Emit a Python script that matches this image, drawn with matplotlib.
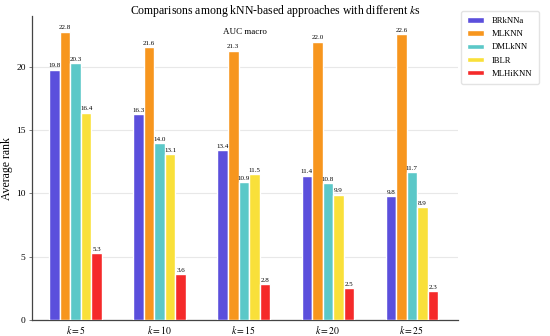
import matplotlib
matplotlib.use("Agg")
import matplotlib.pyplot as plt
import numpy as np

plt.rcParams['font.family'] = ['Liberation Serif', 'DejaVu Serif']
plt.rcParams['mathtext.fontset'] = 'stix'

groups = ["$k = 5$", "$k = 10$", "$k = 15$", "$k = 20$", "$k = 25$"]
methods = ["BRkNNa", "MLKNN", "DMLkNN", "IBLR", "MLHiKNN"]
BRkNNa = [19.8, 16.3, 13.4, 11.4, 9.8]
MLKNN = [22.8, 21.6, 21.3, 22.0, 22.6]
DMLkNN = [20.3, 14.0, 10.9, 10.8, 11.7]
IBLR = [16.4, 13.1, 11.5, 9.9, 8.9]
MLHiKNN = [5.3, 3.6, 2.8, 2.5, 2.3]
series = [BRkNNa, MLKNN, DMLkNN, IBLR, MLHiKNN]
colors = ["#5b4fdc", "#f7961e", "#5bc8c8", "#f9e03a", "#f52a2a"]

fig = plt.figure(figsize=(5.5, 3.36), dpi=100)
ax = fig.add_axes([0.058, 0.048, 0.775, 0.903])
x = np.arange(len(groups))
pitch = 0.125
for i, (vals, c, m) in enumerate(zip(series, colors, methods)):
    pos = x + (i - 2) * pitch
    bars = ax.bar(pos, vals, width=pitch, color=c, edgecolor='white', linewidth=1.0, label=m, zorder=3)
    for b, v in zip(bars, vals):
        ax.text(b.get_x() + b.get_width() / 2, v + 0.1, f"{v:.1f}", ha='center', va='bottom', fontsize=5, zorder=4)

ax.set_xlim(-0.52, 4.55)
ax.set_ylim(0, 24)
ax.set_xticks(x)
ax.set_xticklabels(groups, fontsize=7)
ax.set_yticks([0, 5, 10, 15, 20])
ax.tick_params(axis='y', labelsize=6.8, length=2.5, width=0.6, pad=2, color='#666666')
ax.tick_params(axis='x', length=0, pad=3)
ax.yaxis.grid(True, color='#e8e8e8', linewidth=0.8, zorder=0)
ax.set_axisbelow(True)
for s in ['top', 'right']:
    ax.spines[s].set_visible(False)
for s in ['left', 'bottom']:
    ax.spines[s].set_color('#444444')
    ax.spines[s].set_linewidth(0.9)
ax.set_ylabel("Average rank", fontsize=8.5, labelpad=2)
ax.text(0.5, 0.95, "AUC macro", transform=ax.transAxes, ha='center', va='center', fontsize=6.5)
fig.suptitle("Comparisons among kNN-based approaches with different $k$s", fontsize=8.5, y=0.99)
fig.legend(loc='upper right', bbox_to_anchor=(0.987, 0.98), fontsize=6.2, frameon=True,
           edgecolor='#dddddd', handlelength=2.0, handleheight=0.6, borderpad=0.7, labelspacing=0.6,
           handletextpad=0.9, fancybox=True)
fig.savefig("out.png", dpi=100)
